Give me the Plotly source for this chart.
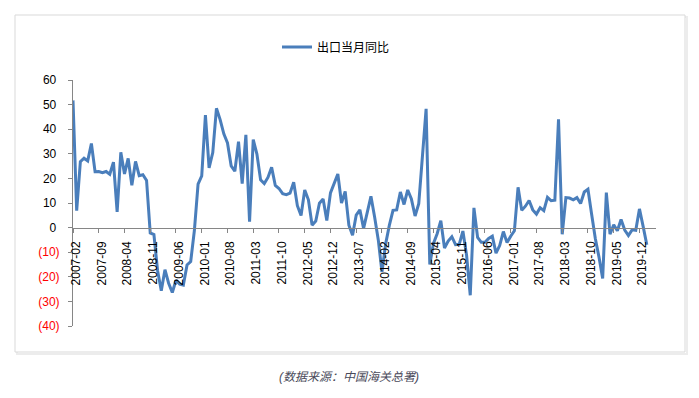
import plotly.graph_objects as go

# ---- data (China exports, YoY %, monthly 2007-02 .. 2020-02) ----
v2007 = [51.7, 6.9, 26.8, 28.2, 27.1, 34.2, 22.7, 22.8, 22.3, 22.8, 21.7]  # Feb-Dec
v2008 = [26.6, 6.4, 30.6, 21.8, 28.1, 17.2, 26.9, 21.1, 21.5, 19.2, -2.2, -2.8]
v2009 = [-17.5, -25.7, -17.1, -22.6, -26.4, -21.4, -23.0, -23.4, -15.2, -13.8, -1.2, 17.7]
v2010 = [21.0, 45.7, 24.3, 30.5, 48.5, 43.9, 38.1, 34.4, 25.1, 22.9, 34.9, 17.9]
v2011 = [37.7, 2.4, 35.8, 29.9, 19.4, 17.9, 20.4, 24.5, 17.1, 15.9, 13.8, 13.4]
v2012 = [14.0, 18.4, 8.9, 4.9, 15.3, 11.3, 1.0, 2.7, 9.9, 11.6, 2.9, 14.1]
v2013 = [18.0, 21.8, 10.0, 14.7, 1.0, -3.1, 5.1, 7.2, -0.3, 5.6, 12.7, 4.3]
v2014 = [-5.0, -18.1, -6.6, 0.9, 7.0, 7.2, 14.5, 9.4, 15.3, 11.6, 4.7, 9.7]
v2015 = [29.0, 48.3, -15.0, -6.4, -2.5, 2.8, -8.3, -5.5, -3.7, -6.9, -6.8, -1.4]
v2016 = [-11.2, -27.5, 8.0, -4.0, -6.0, -6.0, -4.4, -3.5, -10.4, -7.3, -1.6, -6.1]
v2017 = [-3.5, -1.3, 16.4, 7.0, 8.7, 11.0, 7.2, 5.5, 8.1, 6.9, 12.3, 10.9]
v2018 = [11.1, 44.0, -2.7, 12.2, 12.0, 11.3, 12.2, 9.8, 14.5, 15.6, 5.4, -4.4]
v2019 = [-12.0, -20.7, 14.2, -2.7, 1.1, -1.3, 3.3, -1.0, -3.2, -0.9, -1.1, 7.6]
v2020 = [0.5, -7.0]  # Jan-Feb

values = v2007 + v2008 + v2009 + v2010 + v2011 + v2012 + v2013 + v2014 + v2015 + v2016 + v2017 + v2018 + v2019 + v2020
months = [f"{y}-{m:02d}" for y in range(2007, 2021) for m in range(1, 13)][1:1 + len(values)]

tick_labels = ["2007-02", "2007-09", "2008-04", "2008-11", "2009-06", "2010-01", "2010-08",
               "2011-03", "2011-10", "2012-05", "2012-12", "2013-07", "2014-02", "2014-09",
               "2015-04", "2015-11", "2016-06", "2017-01", "2017-08", "2018-03", "2018-10",
               "2019-05", "2019-12"]
y_ticks = [60, 50, 40, 30, 20, 10, 0, -10, -20, -30, -40]
y_ticktext = [f"{t}\u00a0" if t >= 0 else f'<span style="color:#FF0000">({-t})</span>' for t in y_ticks]

series_name = "出口当月同比"
source_text = "(数据来源：中国海关总署)"

# page has an 8px body margin; figure is sized to fit the 699x398 window exactly
OFF = 8
W, H = 699 - 2 * OFF, 398 - 2 * OFF


def px(xp):
    return (xp - OFF) / W


def py(yp):
    return 1 - (yp - OFF) / H


FONT = "Liberation Sans, Arial, 'Noto Sans CJK SC', sans-serif"

fig = go.Figure()
fig.add_trace(go.Scatter(x=months, y=values, mode="lines", name=series_name,
                         line=dict(color="#4A7EBB", width=3)))

fig.update_layout(
    width=W, height=H,
    margin=dict(l=0, r=0, t=0, b=0, pad=0, autoexpand=False),
    paper_bgcolor="white", plot_bgcolor="rgba(0,0,0,0)",
    font=dict(family=FONT, size=12, color="#000"),
    showlegend=True,
    legend=dict(orientation="h", x=px(277), y=py(47), xanchor="left", yanchor="middle",
                font=dict(size=12, color="#000"), bgcolor="rgba(0,0,0,0)"),
    xaxis=dict(type="category", range=[0, 158.5], domain=[px(73), px(656)],
               anchor="free", position=py(227.6), automargin=False,
               showline=True, linecolor="#868686", linewidth=1,
               ticks="outside", ticklen=4, tickcolor="#868686",
               tickmode="array", tickvals=tick_labels, ticktext=tick_labels,
               tickangle=-90, tickfont=dict(size=12, color="#000"),
               ticklabelstandoff=4, ticklabelshift=3,
               showgrid=False, zeroline=False),
    yaxis=dict(range=[-40, 60], domain=[py(326), py(80)], automargin=False,
               showline=True, linecolor="#868686", linewidth=1,
               ticks="outside", ticklen=4, tickcolor="#868686",
               tickmode="array", tickvals=y_ticks, ticktext=y_ticktext,
               tickfont=dict(size=12, color="#000"), ticklabelstandoff=6,
               showgrid=False, zeroline=False),
    shapes=[
        dict(type="rect", xref="paper", yref="paper", layer="below",
             x0=px(17), x1=px(687), y0=py(354), y1=py(17),
             line=dict(color="#ececec", width=2), fillcolor="rgba(0,0,0,0)"),
        dict(type="rect", xref="paper", yref="paper", layer="below",
             x0=px(15), x1=px(685), y0=py(352), y1=py(15),
             line=dict(color="#d9d9d9", width=1), fillcolor="white"),
    ],
    annotations=[
        dict(text=f"<i>{source_text}</i>", xref="paper", yref="paper",
             x=px(349), y=py(377), xanchor="center", yanchor="middle",
             showarrow=False, font=dict(size=12, color="#4a4a5a")),
    ],
)

fig.write_html("out.html")
